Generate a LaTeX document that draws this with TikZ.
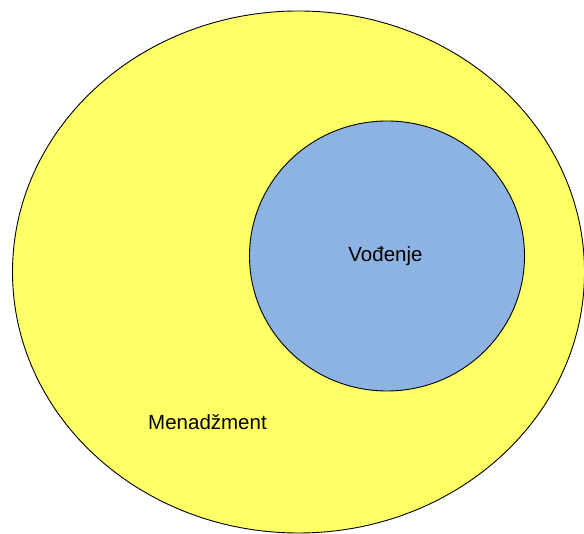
\documentclass[tikz,border=0pt]{standalone}
\usepackage{fontspec}
\setmainfont{Liberation Sans}
\usetikzlibrary{shapes.geometric}
\definecolor{outeryellow}{RGB}{255,255,102}
\definecolor{innerblue}{RGB}{141,179,226}
\begin{document}
\begin{tikzpicture}[x=1pt,y=1pt,
  region/.style={draw=black,line width=0.9pt},
  lbl/.style={font=\fontsize{20.5}{24}\selectfont,text=black,inner sep=0pt}]
\useasboundingbox (0,0) rectangle (584,534);
\clip (0,0) rectangle (584,534);
\fill[white] (0,0) rectangle (584,534);
\draw[region,fill=outeryellow] (298.5,262) ellipse [x radius=286,y radius=261];
\draw[region,fill=innerblue] (387,278) ellipse [x radius=137.5,y radius=135];
\node[lbl] (vodjenje) at (385.5,278) {Vođenje};
\node[lbl] (menadzment) at (207.5,112) {Menadžment};
\end{tikzpicture}
\end{document}
